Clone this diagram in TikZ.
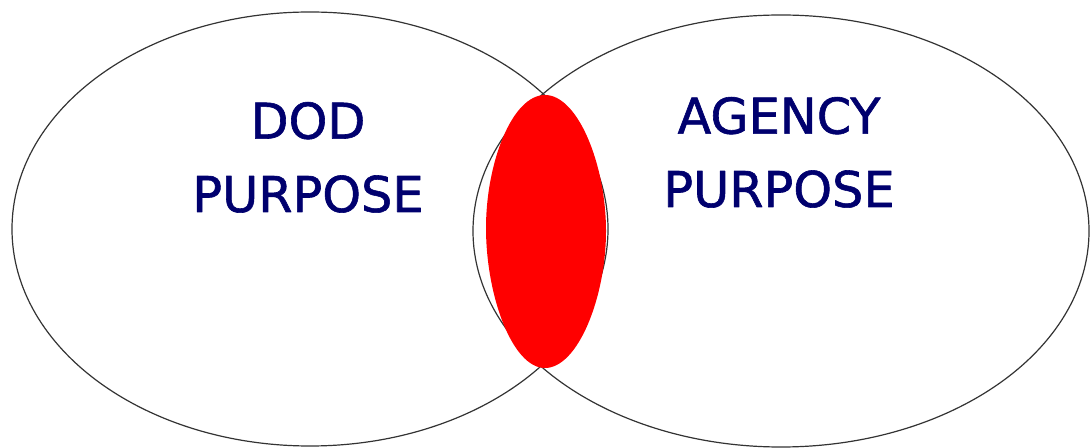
\documentclass[tikz,border=0pt]{standalone}
\usepackage{fontspec}
\newfontfamily\vennfont[FakeBold=1.2]{DejaVu Sans}
\definecolor{vennnavy}{RGB}{0,0,110}
\definecolor{vennred}{RGB}{255,0,0}
\usetikzlibrary{calc}

\begin{document}
\begin{tikzpicture}[x=0.75pt, y=-0.75pt, line cap=round, line join=round,
    venn/.style={draw=black!80, line width=0.9pt},
    purpose/.style={text=vennnavy, align=center, inner sep=0pt, anchor=base,
      font=\vennfont\fontsize{37}{55}\selectfont}]
  \useasboundingbox (0,0) rectangle (1091,448);
  \draw[venn] (310,229) ellipse [x radius=298, y radius=217];
  \draw[venn] (781,231) ellipse [x radius=308, y radius=216];
  % overlap
  \fill[vennred] (545,95) .. controls (578,95) and (606,165) .. (606,231)
    .. controls (606,297) and (578,368) .. (545,368)
    .. controls (512,368) and (486,295) .. (486,228)
    .. controls (486,163) and (512,95) .. (545,95);
  \node[purpose] (dod) at (308,212) {DOD\\PURPOSE};
  \node[purpose] (agency) at (779,207) {AGENCY\\PURPOSE};
\end{tikzpicture}
\end{document}
